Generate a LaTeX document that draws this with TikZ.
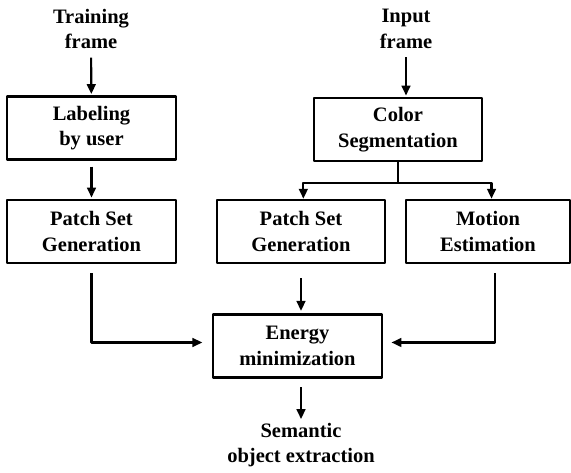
\documentclass[tikz,border=0pt]{standalone}
\usepackage{fontspec}
\setmainfont{Liberation Serif}
\usetikzlibrary{arrows.meta}
\begin{document}
\begin{tikzpicture}[x=0.03cm, y=-0.03cm, font=\fontsize{17.5}{22}\selectfont\bfseries, line join=round,
	>={Triangle[length=8.5pt,width=7.5pt]},
	box/.style={draw, line width=2.2pt, align=center, inner sep=0pt, minimum width=5.07cm, minimum height=1.89cm},
	txt/.style={align=center, inner sep=0pt},
	conn/.style={->, line width=1.8pt}]
	\useasboundingbox (0,0) rectangle (571,472);
	% left column
	\node[txt] (train) at (91,29) {Training\\frame};
	\node[box] (label) at (91.5,128) {Labeling\\by user};
	\node[box] (patchL) at (91.5,231.5) {Patch Set\\Generation};
	% right column
	\node[txt] (input) at (406,29) {Input\\frame};
	\node[box, minimum width=5.04cm] (color) at (398,129.5) {Color\\Segmentation};
	\node[box, minimum width=5.04cm] (patchM) at (301,231.5) {Patch Set\\Generation};
	\node[box, minimum width=4.92cm] (motion) at (488,231.5) {Motion\\Estimation};
	\node[box] (energy) at (297.5,346) {Energy\\minimization};
	\node[txt] (result) at (301,445) {Semantic\\object extraction};
	\coordinate (split) at (398,183);
	% connectors
	\draw[conn, shorten <=7pt, shorten >=1pt] (train) -- (label);
	\draw[conn, shorten <=5pt, shorten >=1pt] (label) -- (patchL);
	\draw[conn, shorten <=7pt, shorten >=1pt] (input.south) -- (input.south |- color.north);
	\draw[line width=1.8pt] (color.south) -- (split);
	\draw[conn] (split) -| ([xshift=2pt]patchM.north);
	\draw[conn] (split) -| ([xshift=3pt]motion.north);
	\draw[conn, shorten <=7.5pt, shorten >=8pt] (patchL.south) |- ([yshift=3pt]energy.west);
	\draw[conn, shorten <=7.5pt, shorten >=7pt] ([xshift=6pt]motion.south) |- ([yshift=3pt]energy.east);
	\draw[conn, shorten <=12pt, shorten >=2pt] (patchM.south) -- (patchM.south |- energy.north);
	\draw[conn, shorten <=7pt, shorten >=3pt] ([xshift=3pt]energy.south) -- ([xshift=3pt]energy.south |- result.north);
\end{tikzpicture}
\end{document}
